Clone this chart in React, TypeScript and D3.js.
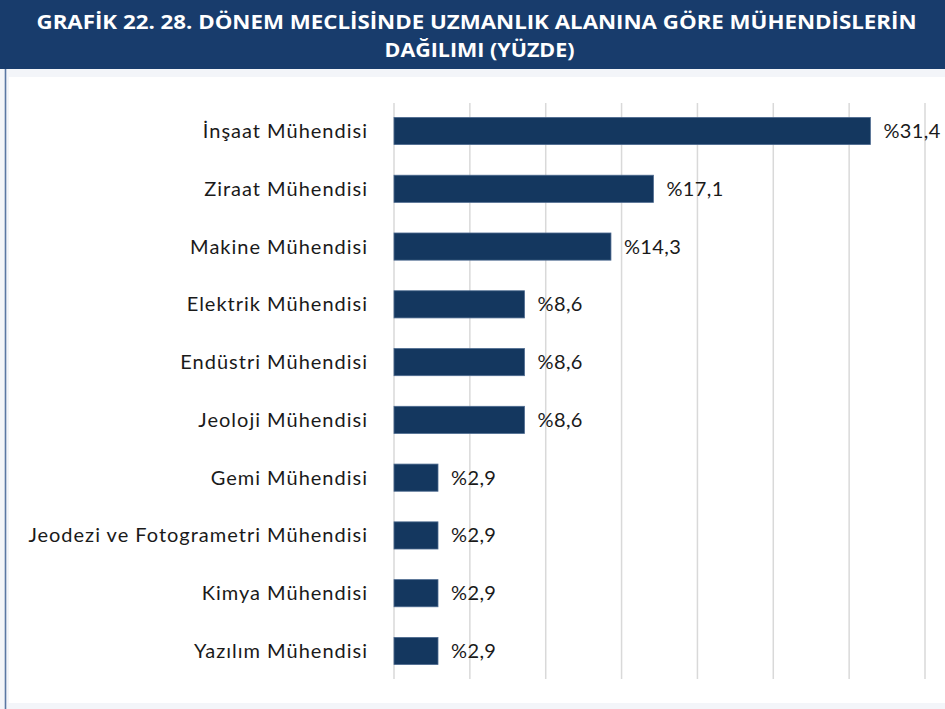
import React from "react";
import * as d3 from "d3";

// uzmanlik alanlari ve yuzdeleri
const categories = [
  "İnşaat Mühendisi",
  "Ziraat Mühendisi",
  "Makine Mühendisi",
  "Elektrik Mühendisi",
  "Endüstri Mühendisi",
  "Jeoloji Mühendisi",
  "Gemi Mühendisi",
  "Jeodezi ve Fotogrametri Mühendisi",
  "Kimya Mühendisi",
  "Yazılım Mühendisi",
];
const values = [31.4, 17.1, 14.3, 8.6, 8.6, 8.6, 2.9, 2.9, 2.9, 2.9];
const gridTicks = [0, 5, 10, 15, 20, 25, 30, 35];

const titleLines = [
  "GRAFİK 22. 28. DÖNEM MECLİSİNDE UZMANLIK ALANINA GÖRE MÜHENDİSLERİN",
  "DAĞILIMI (YÜZDE)",
];

const W = 945;
const H = 709;
const font = "Lato, 'Open Sans', sans-serif";

export default function App() {
  const x = d3.scaleLinear().domain([0, 35]).range([394, 925]);
  const y = d3
    .scaleBand<string>()
    .domain(categories)
    .range([103, 679])
    .paddingInner(0.53)
    .paddingOuter(0.25);

  const fmt = (v: number) => "%" + v.toFixed(1).replace(".", ",");

  return (
    <svg
      width={W}
      height={H}
      style={{ position: "absolute", left: 0, top: 0, display: "block" }}
    >
      {/* frame */}
      <rect x={0} y={0} width={W} height={H} fill="#f3f5f9" />
      <rect x={9} y={77} width={W - 9} height={626} fill="#ffffff" />
      <line x1={5.5} x2={5.5} y1={69} y2={H} stroke="#5a77a3" strokeWidth={1.6} />
      <rect x={0} y={0} width={W} height={69} fill="#183c6c" />

      {/* title */}
      <text
        x={W / 2 + 4}
        y={29}
        textAnchor="middle"
        fill="#ffffff"
        fontFamily="'Open Sans', sans-serif"
        fontWeight={700}
        fontSize={19}
        textLength={880}
        lengthAdjust="spacingAndGlyphs"
      >
        {titleLines[0]}
      </text>
      <text
        x={W / 2 + 7}
        y={57}
        textAnchor="middle"
        fill="#ffffff"
        fontFamily="'Open Sans', sans-serif"
        fontWeight={700}
        fontSize={19}
        textLength={190}
        lengthAdjust="spacingAndGlyphs"
      >
        {titleLines[1]}
      </text>

      {/* grid */}
      {gridTicks.map((t) => (
        <line
          key={t}
          x1={x(t)}
          x2={x(t)}
          y1={103}
          y2={679}
          stroke="#d9d9d9"
          strokeWidth={1.5}
        />
      ))}

      {/* bars */}
      {categories.map((c, i) => {
        const yy = y(c) as number;
        const bw = y.bandwidth();
        return (
          <g key={c}>
            <rect
              x={x(0)}
              y={yy}
              width={x(values[i]) - x(0)}
              height={bw}
              fill="#14375f"
              stroke="#4d6a8f"
              strokeWidth={0.8}
            />
            <text
              x={368}
              y={yy + bw / 2}
              dy="0.35em"
              textAnchor="end"
              fontFamily={font}
              fontSize={20}
              letterSpacing={1}
              fill="#1a1a1a"
            >
              {c}
            </text>
            <text
              x={x(values[i]) + 13}
              y={yy + bw / 2}
              dy="0.35em"
              fontFamily={font}
              fontSize={20}
              letterSpacing={0.4}
              fill="#1a1a1a"
            >
              {fmt(values[i])}
            </text>
          </g>
        );
      })}
    </svg>
  );
}
